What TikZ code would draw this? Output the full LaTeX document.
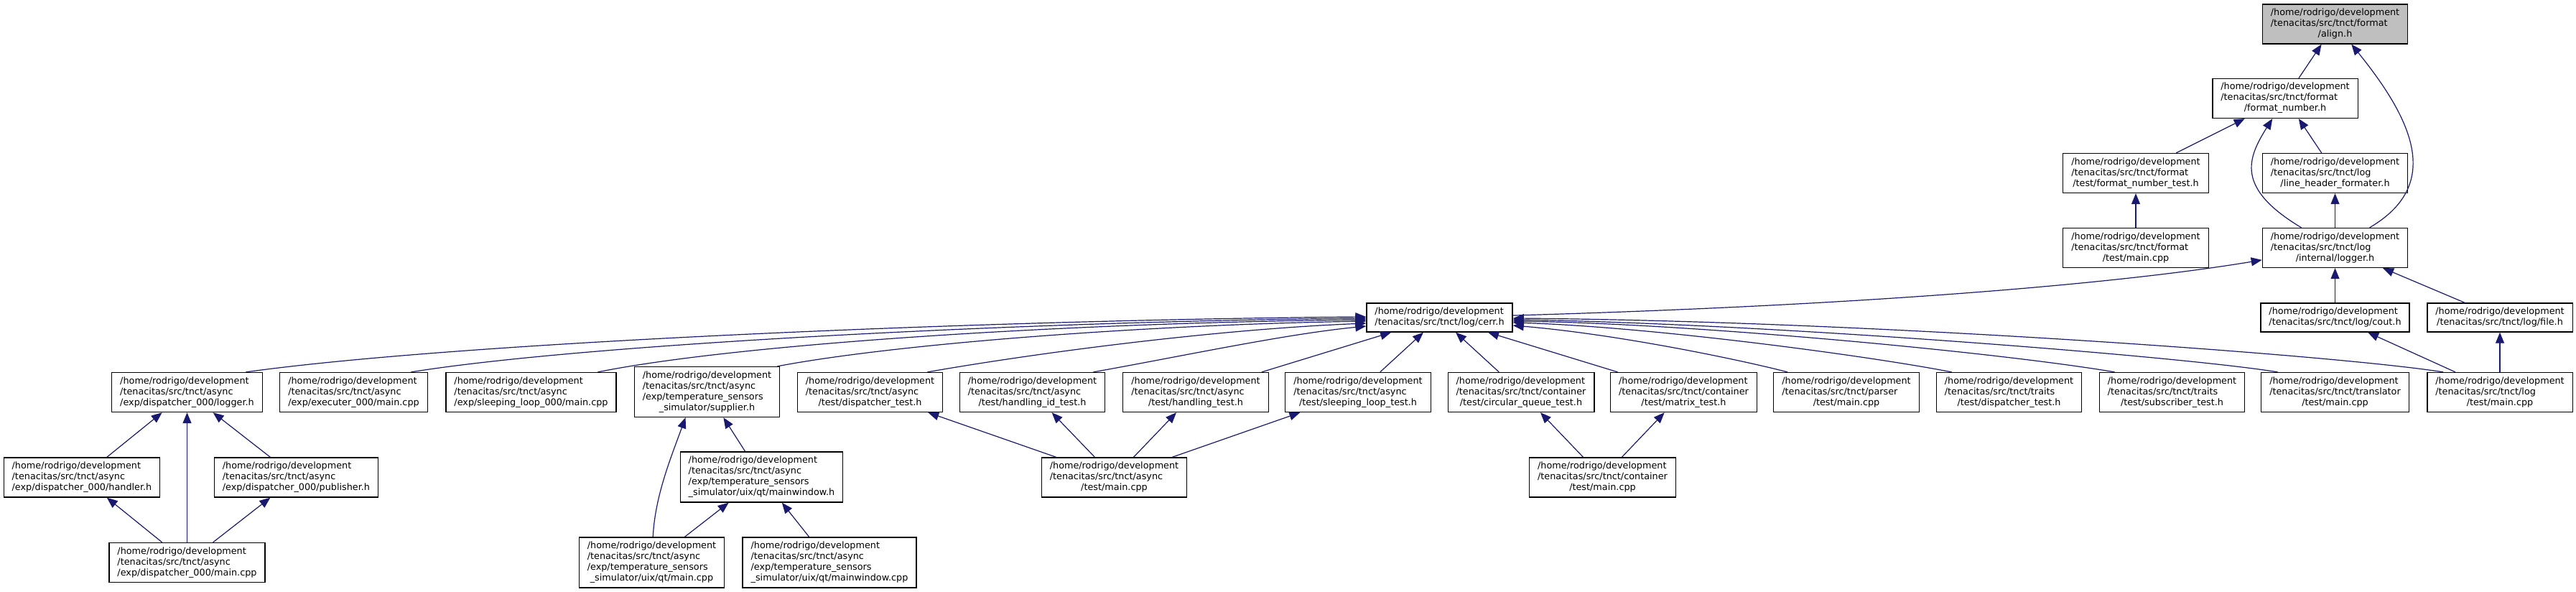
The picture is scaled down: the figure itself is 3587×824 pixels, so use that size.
\documentclass[tikz,border=0pt]{standalone}
\usepackage{fontspec}
\setmainfont{DejaVu Sans}
\usepackage{xcolor}
\usepackage{tikz}
\usetikzlibrary{arrows.meta,calc}

\definecolor{edgeblue}{HTML}{191970}
\definecolor{rootgray}{HTML}{BFBFBF}

% first lines left, last line centred (as graphviz does)
\newcommand{\flines}[2]{\begin{tabular}{@{}l@{}}#1\\\multicolumn{1}{@{}c@{}}{#2}\end{tabular}}

\begin{document}
\begin{tikzpicture}[
    x=0.5pt, y=-0.5pt,
    filebox/.style={draw=black, line width=0.65pt, fill=white, inner xsep=5.75pt, inner ysep=2.5pt, font=\fontsize{6.4pt}{7.5pt}\selectfont},
    incl/.style={draw=edgeblue, line width=0.6pt, -{Triangle[length=7.5pt,width=6pt]}}
]
\path[use as bounding box, fill=white] (0,0) rectangle (3587,824);

% format / log headers
\node[filebox, fill=rootgray] (align) at (3251.5,33.5) {\flines{/home/rodrigo/development\\/tenacitas/src/tnct/format}{/align.h}};
\node[filebox] (fmtnum) at (3182,137) {\flines{/home/rodrigo/development\\/tenacitas/src/tnct/format}{/format\_number.h}};
\node[filebox] (fmttest) at (2974,241) {\flines{/home/rodrigo/development\\/tenacitas/src/tnct/format}{/test/format\_number\_test.h}};
\node[filebox] (linehdr) at (3251.5,241) {\flines{/home/rodrigo/development\\/tenacitas/src/tnct/log}{/line\_header\_formater.h}};
\node[filebox] (fmtmain) at (2974,345) {\flines{/home/rodrigo/development\\/tenacitas/src/tnct/format}{/test/main.cpp}};
\node[filebox] (logger) at (3251.5,345) {\flines{/home/rodrigo/development\\/tenacitas/src/tnct/log}{/internal/logger.h}};
\node[filebox] (cerr) at (2004.5,442) {\flines{/home/rodrigo/development}{/tenacitas/src/tnct/log/cerr.h}};
\node[filebox] (cout) at (3251.5,442) {\flines{/home/rodrigo/development}{/tenacitas/src/tnct/log/cout.h}};
\node[filebox] (logfile) at (3481,442) {\flines{/home/rodrigo/development}{/tenacitas/src/tnct/log/file.h}};

% row of includers
\node[filebox] (dlogger) at (260.5,546) {\flines{/home/rodrigo/development\\/tenacitas/src/tnct/async}{/exp/dispatcher\_000/logger.h}};
\node[filebox] (execmain) at (492.5,546) {\flines{/home/rodrigo/development\\/tenacitas/src/tnct/async}{/exp/executer\_000/main.cpp}};
\node[filebox] (sleepmain) at (739.5,546) {\flines{/home/rodrigo/development\\/tenacitas/src/tnct/async}{/exp/sleeping\_loop\_000/main.cpp}};
\node[filebox] (supplier) at (984.5,545.5) {\flines{/home/rodrigo/development\\/tenacitas/src/tnct/async\\/exp/temperature\_sensors}{\_simulator/supplier.h}};
\node[filebox] (disptest) at (1211.5,546) {\flines{/home/rodrigo/development\\/tenacitas/src/tnct/async}{/test/dispatcher\_test.h}};
\node[filebox] (hidtest) at (1437.5,546) {\flines{/home/rodrigo/development\\/tenacitas/src/tnct/async}{/test/handling\_id\_test.h}};
\node[filebox] (htest) at (1665,546) {\flines{/home/rodrigo/development\\/tenacitas/src/tnct/async}{/test/handling\_test.h}};
\node[filebox] (sltest) at (1891,546) {\flines{/home/rodrigo/development\\/tenacitas/src/tnct/async}{/test/sleeping\_loop\_test.h}};
\node[filebox] (cqtest) at (2118,546) {\flines{/home/rodrigo/development\\/tenacitas/src/tnct/container}{/test/circular\_queue\_test.h}};
\node[filebox] (mtest) at (2344.5,546) {\flines{/home/rodrigo/development\\/tenacitas/src/tnct/container}{/test/matrix\_test.h}};
\node[filebox] (parser) at (2571,546) {\flines{/home/rodrigo/development\\/tenacitas/src/tnct/parser}{/test/main.cpp}};
\node[filebox] (trdisp) at (2797.5,546) {\flines{/home/rodrigo/development\\/tenacitas/src/tnct/traits}{/test/dispatcher\_test.h}};
\node[filebox] (trsub) at (3024.5,546) {\flines{/home/rodrigo/development\\/tenacitas/src/tnct/traits}{/test/subscriber\_test.h}};
\node[filebox] (transl) at (3251.5,546) {\flines{/home/rodrigo/development\\/tenacitas/src/tnct/translator}{/test/main.cpp}};
\node[filebox] (logmain) at (3481,546) {\flines{/home/rodrigo/development\\/tenacitas/src/tnct/log}{/test/main.cpp}};

% lower rows
\node[filebox] (handler) at (114,664.5) {\flines{/home/rodrigo/development\\/tenacitas/src/tnct/async}{/exp/dispatcher\_000/handler.h}};
\node[filebox] (publisher) at (412.5,664.5) {\flines{/home/rodrigo/development\\/tenacitas/src/tnct/async}{/exp/dispatcher\_000/publisher.h}};
\node[filebox] (mainwin) at (1060.5,664) {\flines{/home/rodrigo/development\\/tenacitas/src/tnct/async\\/exp/temperature\_sensors}{\_simulator/uix/qt/mainwindow.h}};
\node[filebox] (amain) at (1551.5,664.5) {\flines{/home/rodrigo/development\\/tenacitas/src/tnct/async}{/test/main.cpp}};
\node[filebox] (cmain) at (2231.5,664.5) {\flines{/home/rodrigo/development\\/tenacitas/src/tnct/container}{/test/main.cpp}};
\node[filebox] (dmain) at (260.5,783) {\flines{/home/rodrigo/development\\/tenacitas/src/tnct/async}{/exp/dispatcher\_000/main.cpp}};
\node[filebox] (qtmain) at (907.5,783) {\flines{/home/rodrigo/development\\/tenacitas/src/tnct/async\\/exp/temperature\_sensors}{\_simulator/uix/qt/main.cpp}};
\node[filebox] (qtmwcpp) at (1155,783) {\flines{/home/rodrigo/development\\/tenacitas/src/tnct/async\\/exp/temperature\_sensors}{\_simulator/uix/qt/mainwindow.cpp}};

% upper edges
\draw[incl] (fmtnum) -- (align);
\draw[incl] (logger) .. controls (3400,258) and (3362,170) .. (align);
\draw[incl] (fmttest) -- (fmtnum);
\draw[incl] (linehdr) -- (fmtnum);
\draw[incl] (logger) .. controls (3113,262) and (3129,221) .. (fmtnum);
\draw[incl] (fmtmain) -- (fmttest);
\draw[incl] (logger) -- (linehdr);
\draw[incl] (cerr) .. controls (2600,425) and (2950,395) .. (logger);
\draw[incl] (cout) -- (logger);
\draw[incl] (logfile) -- (logger);
\draw[incl] (logmain) -- (cout);
\draw[incl] (logmain) -- (logfile);

% into cerr.h from the right
\draw[incl] ($(logmain.north)+(-79,0)$) .. controls (3250,494) and (2600,447) .. ($(cerr.east)+(0,1)$);
\draw[incl] ($(transl.north)+(-80,0)$) .. controls (3030,495) and (2450,450) .. ($(cerr.east)+(0,3)$);
\draw[incl] ($(trsub.north)+(-80,0)$) .. controls (2780,490) and (2350,450) .. ($(cerr.east)+(0,5)$);
\draw[incl] ($(trdisp.north)+(-80,0)$) .. controls (2600,495) and (2300,455) .. ($(cerr.east)+(0,7)$);
\draw[incl] ($(parser.north)+(-82,0)$) .. controls (2420,500) and (2250,465) .. ($(cerr.east)+(0,11)$);

% into cerr.h from below
\draw[incl] (mtest) -- (cerr);
\draw[incl] (cqtest) -- (cerr);
\draw[incl] (sltest) -- (cerr);
\draw[incl] (htest) -- (cerr);

% into cerr.h from the left
\draw[incl] ($(dlogger.north)+(82,0)$) .. controls (650,475) and (1400,445) .. ($(cerr.west)+(0,-1)$);
\draw[incl] ($(execmain.north)+(80,0)$) .. controls (820,478) and (1450,447) .. ($(cerr.west)+(0,1)$);
\draw[incl] ($(sleepmain.north)+(93,0)$) .. controls (1030,478) and (1500,449) .. ($(cerr.west)+(0,3)$);
\draw[incl] ($(supplier.north east)+(-4,0)$) .. controls (1250,478) and (1600,452) .. ($(cerr.west)+(0,5)$);
\draw[incl] ($(disptest.north)+(80,0)$) .. controls (1450,490) and (1700,458) .. ($(cerr.west)+(0,8)$);
\draw[incl] ($(hidtest.north)+(85,0)$) .. controls (1650,495) and (1790,465) .. ($(cerr.west)+(0,12)$);

% lower edges
\draw[incl] (handler) -- (dlogger);
\draw[incl] (publisher) -- (dlogger);
\draw[incl] (dmain) -- (dlogger);
\draw[incl] (dmain) -- (handler);
\draw[incl] (dmain) -- (publisher);
\draw[incl] (qtmain) .. controls (912,690) and (935,635) .. ($(supplier.south)+(-30,0)$);
\draw[incl] (mainwin) -- (supplier);
\draw[incl] (qtmain) -- (mainwin);
\draw[incl] (qtmwcpp) -- (mainwin);
\draw[incl] (amain) -- (disptest);
\draw[incl] (amain) -- (hidtest);
\draw[incl] (amain) -- (htest);
\draw[incl] (amain) -- (sltest);
\draw[incl] (cmain) -- (cqtest);
\draw[incl] (cmain) -- (mtest);

\end{tikzpicture}
\end{document}
